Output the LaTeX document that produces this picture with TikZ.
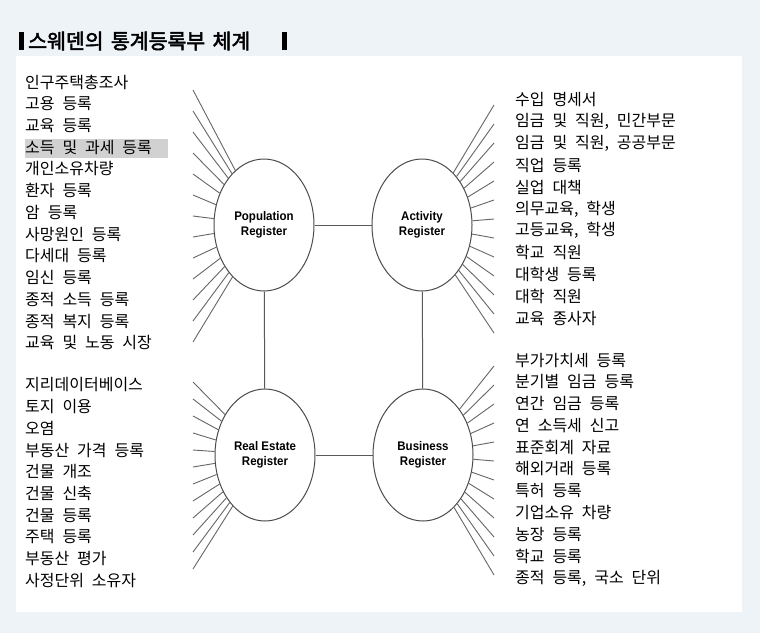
\documentclass[tikz,border=0pt]{standalone}
\usepackage{fontspec}
\usetikzlibrary{shapes.geometric}
\newfontfamily\kr[WordSpace=2.2]{Noto Sans CJK KR}
\newfontfamily\krb[FakeBold=2.5,WordSpace=1.6]{Noto Sans CJK KR}
\newfontfamily\lab[FakeStretch=0.92]{Liberation Sans}
\definecolor{bgblue}{HTML}{EEF3F8}
\begin{document}
\begin{tikzpicture}[x=1pt,y=-1pt,
  item/.style={anchor=west,inner sep=1pt,font=\kr\fontsize{16}{18}\selectfont},
  reg/.style={draw=black!70,line width=1pt,ellipse,minimum width=100pt,minimum height=132pt,inner sep=0pt,align=center,font=\lab\bfseries\fontsize{12.5}{15}\selectfont},
  link/.style={draw=black!65,line width=1pt},
  spoke/.style={draw=black!60,line width=0.9pt}]
\useasboundingbox (0,0) rectangle (760,633);
\fill[bgblue] (0,0) rectangle (760,633);
\fill[white] (16,56) rectangle (742,612);
% title
\fill (19,32) rectangle (24,50);
\node[anchor=west,inner sep=0pt,font=\krb\fontsize{20.5}{22}\selectfont] (title) at (28,41) {스웨덴의 통계등록부 체계};
\fill (282,32) rectangle (287,50);
% registers
\node[reg] (P) at (264,225) {Population\\Register};
\node[reg] (A) at (422,225) {Activity\\Register};
\node[reg] (R) at (265,455) {Real Estate\\Register};
\node[reg] (B) at (423,455) {Business\\Register};
\draw[link] (P) -- (A);
\draw[link] (R) -- (B);
\draw[link] (P) -- (R);
\draw[link] (A) -- (B);
% spokes
\foreach \i in {0,...,12}{
  \coordinate (pl\i) at (193,{90+\i*21});
  \draw[spoke] (pl\i) -- (P);
  \coordinate (ar\i) at (494,{105+\i*19});
  \draw[spoke] (ar\i) -- (A);
}
\foreach \i in {0,...,11}{
  \coordinate (rl\i) at (193,{382+\i*17});
  \draw[spoke] (rl\i) -- (R);
  \coordinate (br\i) at (494,{366+\i*19});
  \draw[spoke] (br\i) -- (B);
}
% left lists
\fill[black!18] (25,139) rectangle (168,158);
\foreach [count=\k from 0] \t in {인구주택총조사,고용 등록,교육 등록,소득 및 과세 등록,개인소유차량,환자 등록,암 등록,사망원인 등록,다세대 등록,임신 등록,종적 소득 등록,종적 복지 등록,교육 및 노동 시장}
  \node[item] (l\k) at (24,{82+\k*21.75}) {\t};
\foreach [count=\k from 0] \t in {지리데이터베이스,토지 이용,오염,부동산 가격 등록,건물 개조,건물 신축,건물 등록,주택 등록,부동산 평가,사정단위 소유자}
  \node[item] (m\k) at (24,{385+\k*21.7}) {\t};
% right lists
\foreach [count=\k from 0] \t in {수입 명세서,{임금 및 직원, 민간부문},{임금 및 직원, 공공부문},직업 등록,실업 대책,{의무교육, 학생},{고등교육, 학생},학교 직원,대학생 등록,대학 직원,교육 종사자}
  \node[item] (r\k) at (514,{100+\k*21.8}) {\t};
\foreach [count=\k from 0] \t in {부가가치세 등록,분기별 임금 등록,연간 임금 등록,연 소득세 신고,표준회계 자료,해외거래 등록,특허 등록,기업소유 차량,농장 등록,학교 등록,{종적 등록, 국소 단위}}
  \node[item] (s\k) at (514,{360+\k*21.8}) {\t};
\end{tikzpicture}
\end{document}
